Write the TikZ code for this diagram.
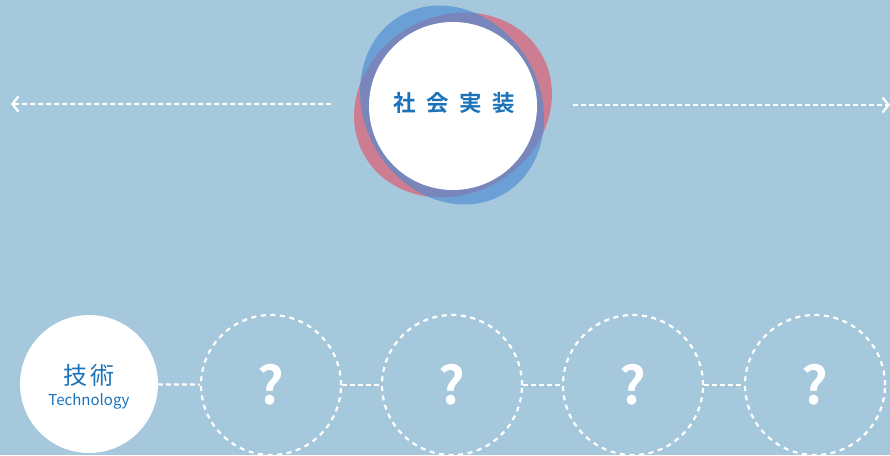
\documentclass[tikz,border=0pt]{standalone}
\usepackage{fontspec}
\usetikzlibrary{arrows.meta}
\newfontfamily\cjk{Noto Sans CJK JP}
\newfontfamily\cjkb{Noto Sans CJK JP Bold}
\definecolor{bgblue}{RGB}{166,200,220}
\definecolor{txtblue}{RGB}{27,114,184}
\definecolor{ringblue}{RGB}{75,140,210}
\definecolor{ringred}{RGB}{230,75,95}
\tikzset{
  wline/.style={draw=white, line width=2.2pt, dash pattern=on 5pt off 3pt},
  qcircle/.style={circle, draw=white, line width=2.2pt, dash pattern=on 5pt off 4.6pt, minimum size=140pt, inner sep=0pt, text=white, font=\cjkb\fontsize{52}{52}\selectfont},
  chev/.style={-{Straight Barb[length=6pt,width=15pt,line width=2.2pt]}},
}
\begin{document}
\begin{tikzpicture}[x=1pt,y=-1pt]
\fill[bgblue] (0,0) rectangle (890,455);
\useasboundingbox (0,0) rectangle (890,455);
% rings
\fill[ringred, opacity=0.6, rotate around={30:(453,105)}] (453,105) ellipse [x radius=102pt, y radius=89pt];
\fill[ringblue, opacity=0.65, rotate around={30:(452,105)}] (452,105) ellipse [x radius=88pt, y radius=103pt];
\node[circle, fill=white, minimum size=168pt, inner sep=0pt] (soc) at (453,106) {};
\node[text=txtblue, font=\cjkb\fontsize{22.5}{22.5}\selectfont] at (454,103) {社\hspace{10.5pt}会\hspace{10.5pt}実\hspace{10.5pt}装};
% side arrows
\coordinate (ls) at (331,104);
\coordinate (le) at (11,104);
\coordinate (rs) at (573,105);
\coordinate (re) at (890,105);
\draw[wline, chev] (ls) -- (le);
\draw[wline, chev] (rs) -- (re);
% bottom row
\node[circle, fill=white, minimum size=138pt, inner sep=0pt] (tech) at (89,384) {};
\node[text=txtblue, font=\cjk\fontsize{24}{24}\selectfont] at (89,375) {技\hspace{3pt}術};
\node[text=txtblue, font=\cjk\fontsize{15}{15}\selectfont] at (89,401) {Technology};
\node[qcircle] (q1) at (271,385) {?};
\node[qcircle] (q2) at (452,385) {?};
\node[qcircle] (q3) at (633,385) {?};
\node[qcircle] (q4) at (815,385) {?};
\draw[wline] (tech) -- (q1);
\draw[wline] (q1) -- (q2);
\draw[wline] (q2) -- (q3);
\draw[wline] (q3) -- (q4);
\end{tikzpicture}
\end{document}
